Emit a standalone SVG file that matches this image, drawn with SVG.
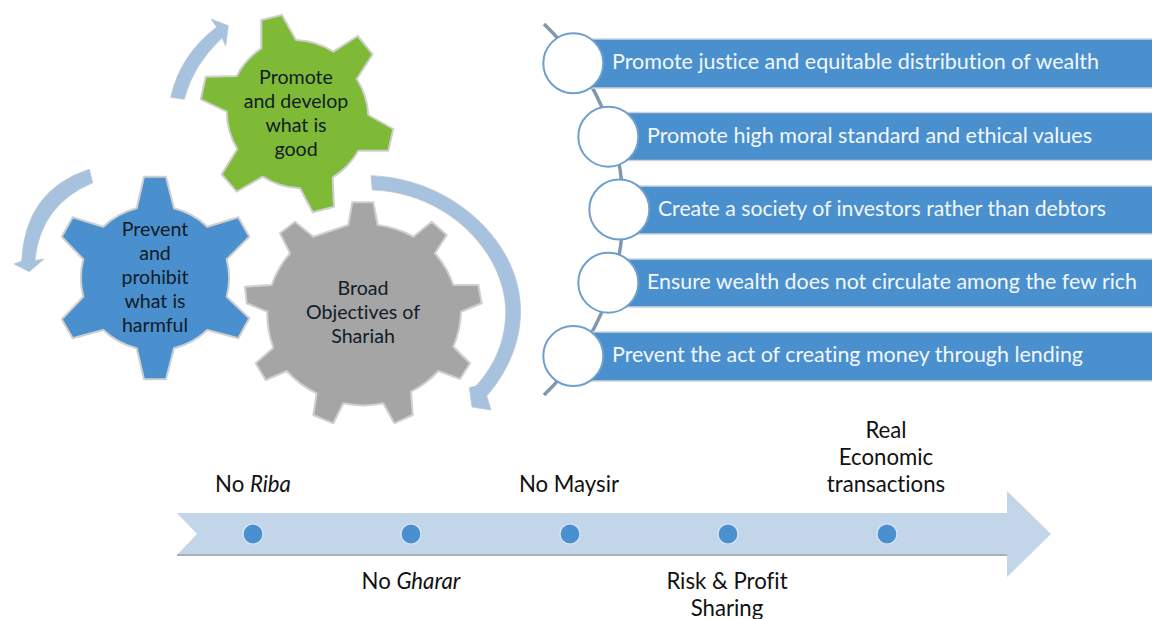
<svg xmlns="http://www.w3.org/2000/svg" width="1152" height="619" viewBox="0 0 1152 619">
<style>
text{font-family:"Lato","Carlito","Liberation Sans",sans-serif;fill:#111c26;font-variant-ligatures:none}
.g{font-size:19.6px;text-anchor:middle}
.t{font-size:22.2px;text-anchor:middle;fill:#111}
.b{font-size:20.5px;fill:#f2f7fc}
.gear{stroke:#cfcfcf;stroke-width:2;stroke-linejoin:round}
.arc{fill:#a6c2df;stroke:#bcc6d0;stroke-width:.8}
.bar{fill:#4a90cf;stroke:#d0d3d6;stroke-width:1.5}
.c{fill:#fff;stroke:#6f9fcb;stroke-width:2}
.dot{fill:#4a90d0;stroke:#dde8f3;stroke-width:1.2}
</style>
<g id="connectors">
<path class="arc" d="M170.7,97.3Q180,55 216.7,27L211,19L228.3,25.7L225.7,46L222,38Q193,65 184.3,99.3Z"/>
<path class="arc" d="M89.3,169.3Q25,190 21.7,261L14,264L29.3,271.7L44,259L35,260.5Q40,205 92.7,182.7Z"/>
<path class="arc" d="M371,175.7C450,178 520,240 520.5,310C521,345 505,375 486.7,396L491,410L472,407L469.3,387.7L476,386C495,365 506,340 505.7,310C504,250 445,192 372.3,190Z"/>
<path d="M544,24A257,257 0 0 1 544,395" fill="none" stroke="#7f98ad" stroke-width="3.5"/>
</g>
<g id="gear-green">
<path class="gear" fill="#7fba37" d="M261.3,20L282,15L296,40A73,73 0 0 1 333.3,51.7L357.7,36L372.7,54.3L356.7,79A73,73 0 0 1 368.3,115L393.3,129L388.3,150.7L358.3,150.7A73,73 0 0 1 332.7,177.3L334,206.7L312.7,212.3L300,188.3A73,73 0 0 1 262.7,176.7L236.7,191.7L221.7,174.3L237.3,149A73,73 0 0 1 226.7,111.7L200.7,99.3L205.7,76.7L236.7,76A73,73 0 0 1 261.3,48.3Z"/>
<text class="g" x="296" y="84">Promote</text><text class="g" x="296" y="108">and develop</text><text class="g" x="296" y="132">what is</text><text class="g" x="296" y="156">good</text>
</g>
<g id="gear-blue">
<path class="gear" fill="#4a90cf" d="M144,176.7L166,176.7L174,208.3A74,74 0 0 1 207.3,226.7L238.3,217.3L249.3,236.7L226.7,259.3A74,74 0 0 1 226.7,296.7L249.3,318.3L238.3,338.3L207.3,330A74,74 0 0 1 174,348.3L166,379.3L144,379.3L136.7,348.3A74,74 0 0 1 103.3,330L72.7,338.3L61.7,319.3L83.3,296.7A74,74 0 0 1 83.3,259.3L61.7,236.7L72.7,217.3L103.3,226.7A74,74 0 0 1 136.7,208.3Z"/>
<text class="g" x="155" y="236">Prevent</text><text class="g" x="155" y="260">and</text><text class="g" x="155" y="284">prohibit</text><text class="g" x="155" y="308">what is</text><text class="g" x="155" y="332">harmful</text>
</g>
<g id="gear-gray">
<path class="gear" fill="#a5a5a5" d="M348.3,225L352.3,202.3L373.3,202.3L377.7,225A97,97 0 0 1 413.3,236.7L431.7,221.7L446.7,235L435,253.3A97,97 0 0 1 453.3,285L478.3,285L481.7,303.3L461,311.7A97,97 0 0 1 453.3,346.7L470,363.3L460,379L438.3,371A97,97 0 0 1 411,391.7L412.7,415L394.3,423.3L383.3,403.3A97,97 0 0 1 343.3,403.3L333.3,423.3L313.3,415L316.7,393.3A97,97 0 0 1 286.7,371L265.7,380L255.7,363.3L273.3,347.7A97,97 0 0 1 267.3,311.7L246.7,303.3L245,286.7L271.7,285A97,97 0 0 1 290,253.3L280,233.3L295,221.7L313.3,236.7Z"/>
<text class="g" x="363" y="295">Broad</text><text class="g" x="363" y="319">Objectives of</text><text class="g" x="363" y="343">Shariah</text>
</g>
<g id="item-1"><rect class="bar" x="575" y="39" width="580" height="49"/><circle class="c" cx="573.3" cy="63.3" r="30"/><text class="b" x="612" y="69" textLength="487" lengthAdjust="spacingAndGlyphs">Promote justice and equitable distribution of wealth</text></g>
<g id="item-2"><rect class="bar" x="610" y="112.5" width="545" height="48"/><circle class="c" cx="608.3" cy="136.7" r="30"/><text class="b" x="647" y="143" textLength="445" lengthAdjust="spacingAndGlyphs">Promote high moral standard and ethical values</text></g>
<g id="item-3"><rect class="bar" x="620" y="186" width="535" height="48"/><circle class="c" cx="619.3" cy="209.5" r="30"/><text class="b" x="658" y="216" textLength="448" lengthAdjust="spacingAndGlyphs">Create a society of investors rather than debtors</text></g>
<g id="item-4"><rect class="bar" x="610" y="259" width="545" height="48"/><circle class="c" cx="608.3" cy="282.7" r="30"/><text class="b" x="647" y="289" textLength="490" lengthAdjust="spacingAndGlyphs">Ensure wealth does not circulate among the few rich</text></g>
<g id="item-5"><rect class="bar" x="575" y="332" width="580" height="49"/><circle class="c" cx="573.3" cy="356" r="30"/><text class="b" x="612" y="362" textLength="471" lengthAdjust="spacingAndGlyphs">Prevent the act of creating money through lending</text></g>
<g id="timeline">
<path d="M177,513H1007V491L1051,534L1007,577V555H177L197,534Z" fill="#c3d5e9"/>
<path d="M177,555H1007" stroke="#a9b1c0" stroke-width="2"/>
<circle class="dot" cx="253" cy="534" r="10"/><circle class="dot" cx="411" cy="534" r="10"/><circle class="dot" cx="570" cy="534" r="10"/><circle class="dot" cx="728" cy="534" r="10"/><circle class="dot" cx="887" cy="534" r="10"/>
<text class="t" x="253" y="492">No <tspan font-style="italic">Riba</tspan></text>
<text class="t" x="569" y="492">No Maysir</text>
<text class="t" x="886" y="438">Real</text><text class="t" x="886" y="465">Economic</text><text class="t" x="886" y="492">transactions</text>
<text class="t" x="411" y="589">No <tspan font-style="italic">Gharar</tspan></text>
<text class="t" x="727" y="589">Risk &amp; Profit</text><text class="t" x="727" y="616">Sharing</text>
</g>
</svg>
